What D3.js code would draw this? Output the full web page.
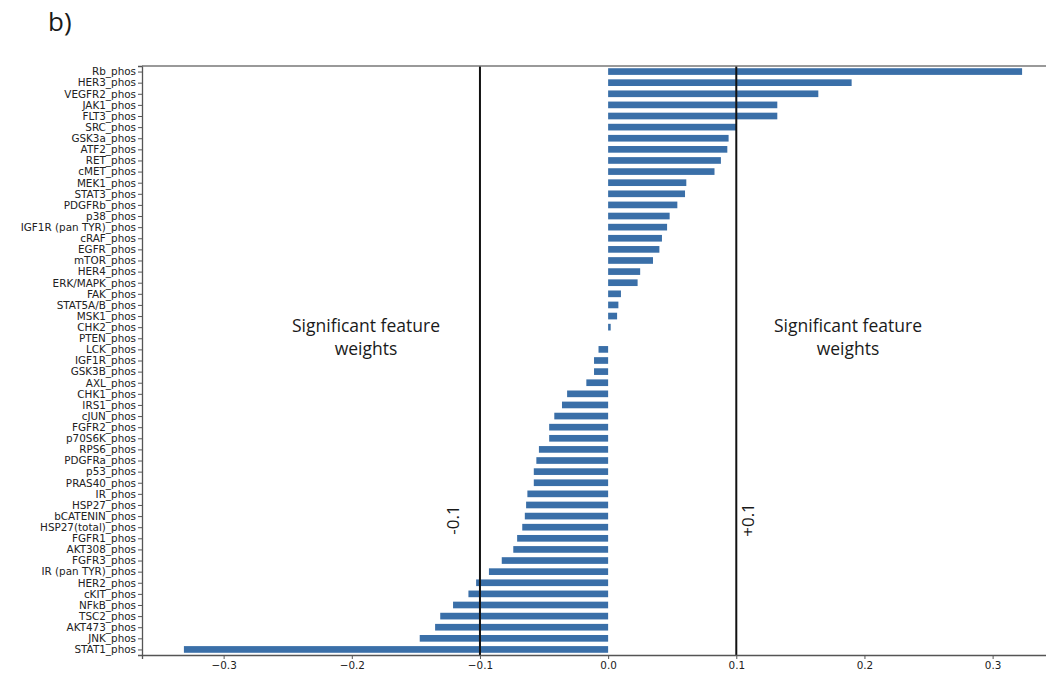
<!DOCTYPE html>
<html>
<head>
<meta charset="utf-8">
<script src="https://cdn.jsdelivr.net/npm/d3@7"></script>
<style>
  html, body { margin: 0; padding: 0; background: #fff; }
  svg { display: block; }
  .tick text { font-family: "DejaVu Sans", sans-serif; font-size: 10.4px; fill: #222; }
  .note { font-family: "Open Sans", "Noto Sans", sans-serif; fill: #1a1a1a; }
</style>
</head>
<body>
<svg id="chart" width="1046" height="676"></svg>
<script>
// Feature names, top to bottom
const features = [
  "Rb_phos", "HER3_phos", "VEGFR2_phos", "JAK1_phos", "FLT3_phos", "SRC_phos",
  "GSK3a_phos", "ATF2_phos", "RET_phos", "cMET_phos", "MEK1_phos", "STAT3_phos",
  "PDGFRb_phos", "p38_phos", "IGF1R (pan TYR)_phos", "cRAF_phos", "EGFR_phos",
  "mTOR_phos", "HER4_phos", "ERK/MAPK_phos", "FAK_phos", "STAT5A/B_phos",
  "MSK1_phos", "CHK2_phos", "PTEN_phos", "LCK_phos", "IGF1R_phos", "GSK3B_phos",
  "AXL_phos", "CHK1_phos", "IRS1_phos", "cJUN_phos", "FGFR2_phos", "p70S6K_phos",
  "RPS6_phos", "PDGFRa_phos", "p53_phos", "PRAS40_phos", "IR_phos", "HSP27_phos",
  "bCATENIN_phos", "HSP27(total)_phos", "FGFR1_phos", "AKT308_phos", "FGFR3_phos",
  "IR (pan TYR)_phos", "HER2_phos", "cKIT_phos", "NFkB_phos", "TSC2_phos",
  "AKT473_phos", "JNK_phos", "STAT1_phos"
];

// Feature weights, same order
const weights = [
  0.323, 0.190, 0.164, 0.132, 0.132, 0.100,
  0.094, 0.093, 0.088, 0.083, 0.061, 0.060,
  0.054, 0.048, 0.046, 0.042, 0.040,
  0.035, 0.025, 0.023, 0.010, 0.008,
  0.007, 0.002, 0.000, -0.0075, -0.011, -0.011,
  -0.017, -0.032, -0.036, -0.042, -0.046, -0.046,
  -0.054, -0.056, -0.058, -0.058, -0.063, -0.064,
  -0.065, -0.067, -0.071, -0.074, -0.083,
  -0.093, -0.103, -0.109, -0.121, -0.131,
  -0.135, -0.147, -0.331
];

const xTicks = [-0.3, -0.2, -0.1, 0.0, 0.1, 0.2, 0.3];
const thresholds = [-0.1, 0.1];
const thresholdLabels = ["-0.1", "+0.1"];
const noteLines = ["Significant feature", "weights"];

const svg = d3.select("#chart");
const W = 1046, H = 676;
const m = { left: 142, top: 66, bottom: 655, right: 1064 };

// 5% padding around the data range, like the default plotting margins
const [lo, hi] = d3.extent(weights);
const pad = (hi - lo) * 0.05;
const x = d3.scaleLinear().domain([lo - pad, hi + pad]).range([m.left, m.right]);
const y = d3.scalePoint().domain(features).range([m.top, m.bottom]).padding(0.5);
const barH = y.step() * 0.6;

svg.append("defs").append("clipPath").attr("id", "plotclip")
  .append("rect").attr("x", m.left).attr("y", m.top - 2)
  .attr("width", W - m.left).attr("height", m.bottom - m.top + 4);

// Bars
svg.append("g").attr("clip-path", "url(#plotclip)")
  .selectAll("rect").data(features).join("rect")
  .attr("x", (d, i) => Math.min(x(0), x(weights[i])))
  .attr("width", (d, i) => Math.abs(x(weights[i]) - x(0)))
  .attr("y", d => y(d) - barH / 2)
  .attr("height", barH)
  .attr("fill", "#3a6fa8");

// Threshold lines
svg.append("g").selectAll("line").data(thresholds).join("line")
  .attr("x1", d => x(d)).attr("x2", d => x(d))
  .attr("y1", m.top).attr("y2", m.bottom)
  .attr("stroke", "#111").attr("stroke-width", 2);

// Axes
const yAxis = svg.append("g").attr("transform", `translate(${m.left},0)`)
  .call(d3.axisLeft(y).tickSize(4).tickPadding(2));
yAxis.select(".domain").attr("stroke", "#555").attr("stroke-width", 1.3);
yAxis.selectAll(".tick line").attr("stroke", "#555");

const xAxis = svg.append("g").attr("transform", `translate(0,${m.bottom})`)
  .call(d3.axisBottom(x).tickValues(xTicks).tickSize(4).tickPadding(3)
    .tickFormat(d => d3.format(".1f")(d).replace("-", "\u2212")));
xAxis.select(".domain").attr("stroke", "#555").attr("stroke-width", 1.3);
xAxis.selectAll(".tick line").attr("stroke", "#555");

// Top frame line
svg.append("line")
  .attr("x1", m.left).attr("x2", W).attr("y1", m.top).attr("y2", m.top)
  .attr("stroke", "#777").attr("stroke-width", 1.3);

// Annotations
const noteX = [366, 848];
noteX.forEach(cx => {
  const t = svg.append("text").attr("class", "note")
    .attr("text-anchor", "middle").attr("font-size", 17.5)
    .attr("x", cx).attr("y", 332);
  noteLines.forEach((s, j) => {
    t.append("tspan").attr("x", cx).attr("dy", j === 0 ? 0 : 23).text(s);
  });
});

const rotX = [459, 754];
thresholds.forEach((v, i) => {
  svg.append("text").attr("class", "note")
    .attr("font-size", 17)
    .attr("text-anchor", "middle")
    .attr("transform", `translate(${rotX[i]},${520}) rotate(-90)`)
    .text(thresholdLabels[i]);
});

// Panel label
svg.append("text").attr("class", "note")
  .attr("x", 48).attr("y", 31).attr("font-size", 26).text("b)");
</script>
</body>
</html>
